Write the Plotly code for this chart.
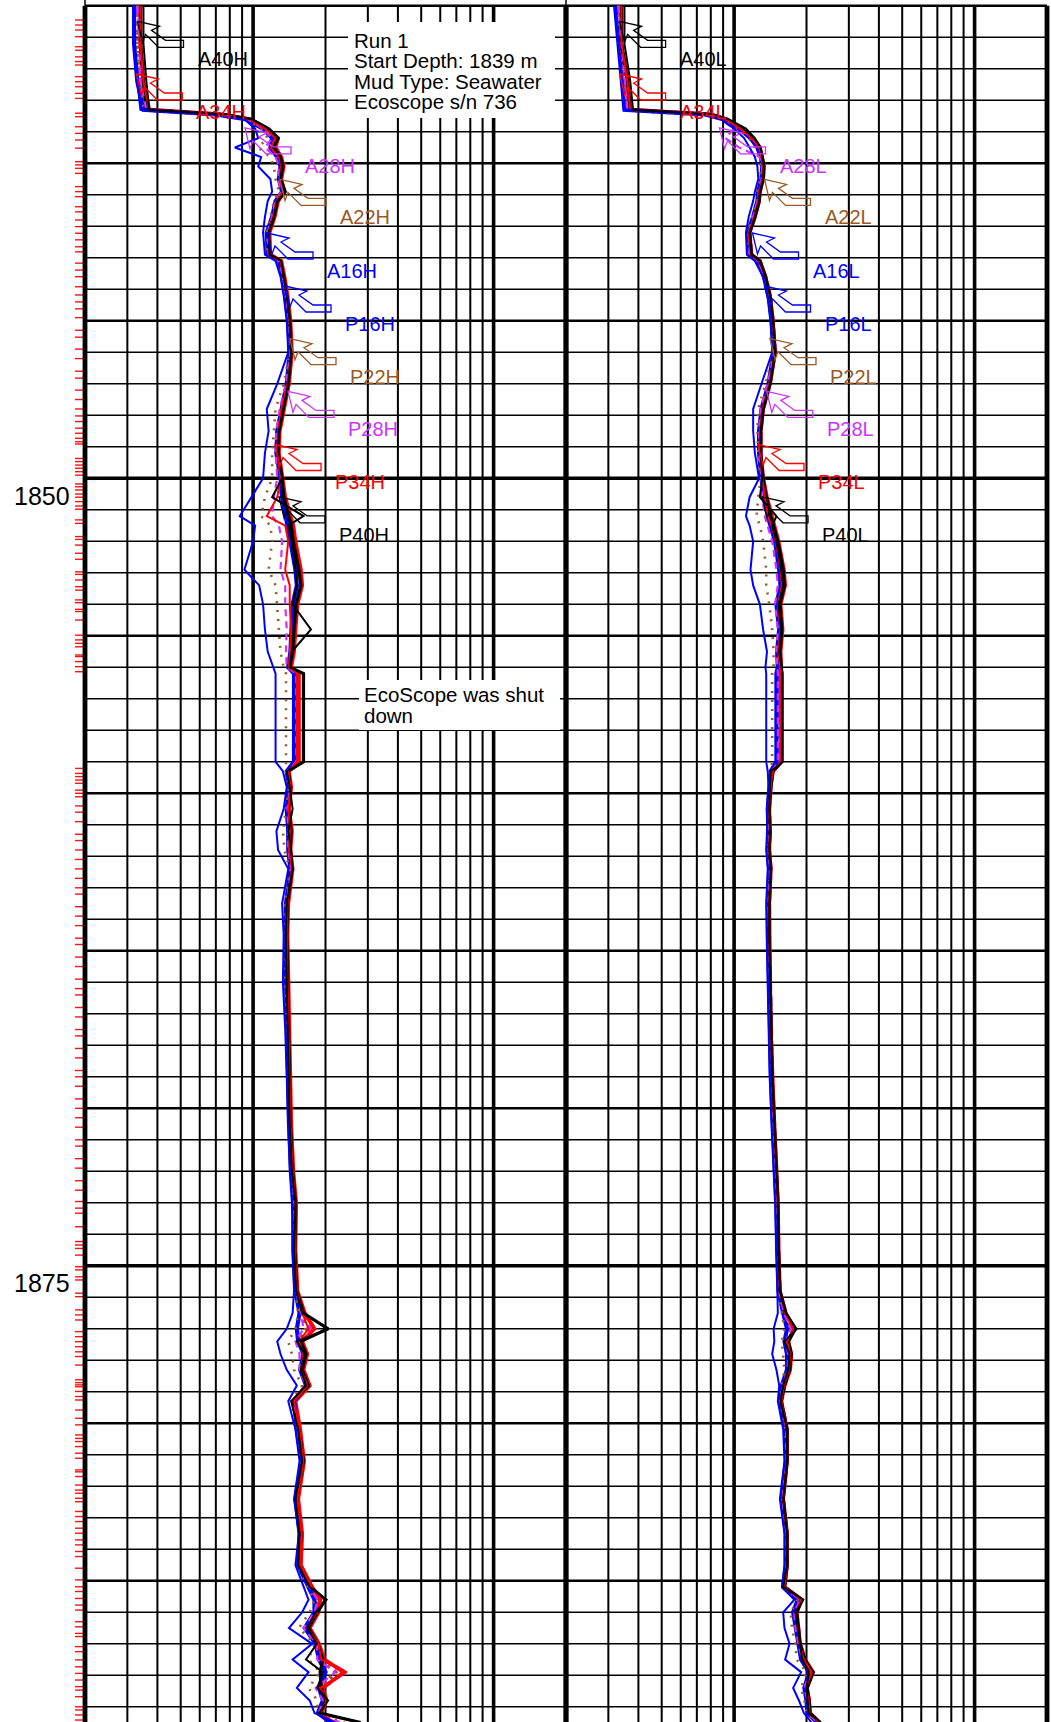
import math
import plotly.graph_objects as go

W, H = 1051, 1722

# ---------------- data ----------------
DEPTH = [
    1835.0, 1836.2, 1837.4, 1838.3, 1838.45, 1838.6, 1838.9, 1839.2, 1839.5, 1839.8,
    1840.1, 1840.5, 1840.9, 1841.2, 1841.7, 1842.2, 1842.9, 1843.1, 1843.6, 1844.2,
    1845.0, 1846.0, 1847.0, 1847.8, 1848.5, 1849.2, 1850.0, 1850.6, 1851.2, 1851.5,
    1852.0, 1852.9, 1853.4, 1854.0, 1854.8, 1855.5, 1856.0, 1856.2, 1859.0, 1859.3,
    1859.8, 1860.5, 1861.2, 1861.8, 1862.4, 1863.5, 1864.5, 1866.0, 1867.5, 1869.0,
    1870.5, 1872.0, 1873.0, 1874.5, 1875.8, 1876.5, 1877.0, 1877.4, 1877.8, 1878.3,
    1878.8, 1879.3, 1880.2, 1881.2, 1882.4, 1883.5, 1884.5, 1885.2, 1885.6, 1886.0,
    1886.5, 1887.0, 1887.5, 1887.9, 1888.4, 1888.8, 1889.2, 1889.5]

# 2 MHz track (left)
P40H = [0.34, 0.34, 0.35, 0.36, 0.76, 0.98, 1.15, 1.25, 1.22, 1.30,
        1.33, 1.30, 1.36, 1.26, 1.22, 1.16, 1.17, 1.30, 1.34, 1.38,
        1.42, 1.44, 1.40, 1.33, 1.28, 1.27, 1.32, 1.34, 1.41, 1.44,
        1.47, 1.55, 1.58, 1.51, 1.48, 1.46, 1.42, 1.62, 1.62, 1.40,
        1.43, 1.40, 1.44, 1.42, 1.45, 1.39, 1.38, 1.39, 1.40, 1.41,
        1.43, 1.46, 1.50, 1.49, 1.52, 1.62, 2.05, 1.58, 1.66, 1.60,
        1.70, 1.46, 1.55, 1.62, 1.52, 1.58, 1.56, 1.74, 2.00, 1.85,
        1.70, 1.86, 1.95, 1.90, 1.92, 2.00, 1.90, 2.80]
P34H = [0.34, 0.34, 0.35, 0.37, 0.74, 0.97, 1.14, 1.27, 1.24, 1.31,
        1.34, 1.31, 1.35, 1.27, 1.23, 1.17, 1.18, 1.31, 1.35, 1.39,
        1.43, 1.45, 1.41, 1.34, 1.29, 1.28, 1.33, 1.36, 1.43, 1.47,
        1.50, 1.58, 1.60, 1.53, 1.50, 1.48, 1.44, 1.55, 1.55, 1.41,
        1.44, 1.41, 1.45, 1.43, 1.46, 1.40, 1.39, 1.40, 1.41, 1.42,
        1.44, 1.47, 1.51, 1.50, 1.53, 1.64, 1.80, 1.60, 1.68, 1.62,
        1.72, 1.50, 1.57, 1.63, 1.54, 1.60, 1.58, 1.76, 1.90, 1.87,
        1.72, 1.88, 1.98, 2.38, 1.95, 2.02, 1.92, 2.10]
P28H = [0.33, 0.34, 0.34, 0.36, 0.73, 0.96, 1.13, 1.26, 1.23, 1.30,
        1.33, 1.30, 1.34, 1.26, 1.22, 1.16, 1.17, 1.30, 1.34, 1.38,
        1.42, 1.44, 1.40, 1.33, 1.28, 1.27, 1.31, 1.33, 1.40, 1.43,
        1.46, 1.53, 1.56, 1.49, 1.47, 1.45, 1.41, 1.51, 1.51, 1.40,
        1.43, 1.40, 1.44, 1.42, 1.45, 1.39, 1.38, 1.39, 1.40, 1.41,
        1.43, 1.46, 1.50, 1.49, 1.52, 1.62, 1.75, 1.58, 1.66, 1.60,
        1.70, 1.48, 1.55, 1.62, 1.52, 1.58, 1.56, 1.74, 1.88, 1.85,
        1.70, 1.86, 1.96, 2.42, 1.93, 2.00, 1.90, 2.05]
P22H = [0.33, 0.33, 0.34, 0.36, 0.72, 0.95, 1.12, 1.23, 1.20, 1.28,
        1.32, 1.29, 1.33, 1.25, 1.21, 1.15, 1.16, 1.29, 1.33, 1.37,
        1.41, 1.43, 1.39, 1.32, 1.27, 1.26, 1.30, 1.32, 1.38, 1.41,
        1.44, 1.51, 1.54, 1.47, 1.46, 1.44, 1.40, 1.50, 1.50, 1.39,
        1.42, 1.39, 1.42, 1.41, 1.44, 1.38, 1.37, 1.38, 1.39, 1.40,
        1.42, 1.45, 1.49, 1.48, 1.51, 1.60, 1.66, 1.56, 1.64, 1.59,
        1.68, 1.49, 1.54, 1.61, 1.52, 1.58, 1.56, 1.72, 1.86, 1.83,
        1.68, 1.85, 1.94, 2.20, 1.92, 1.98, 1.88, 2.15]
P16H = [0.32, 0.32, 0.33, 0.35, 0.70, 0.93, 1.10, 1.20, 1.18, 1.26,
        1.30, 1.28, 1.32, 1.24, 1.20, 1.14, 1.15, 1.28, 1.32, 1.36,
        1.40, 1.42, 1.38, 1.31, 1.26, 1.25, 1.30, 1.32, 1.37, 1.40,
        1.43, 1.50, 1.52, 1.46, 1.45, 1.43, 1.40, 1.48, 1.48, 1.38,
        1.41, 1.38, 1.40, 1.40, 1.43, 1.37, 1.36, 1.37, 1.38, 1.39,
        1.41, 1.44, 1.48, 1.47, 1.50, 1.56, 1.52, 1.54, 1.62, 1.57,
        1.66, 1.48, 1.52, 1.59, 1.50, 1.56, 1.54, 1.70, 1.80, 1.80,
        1.64, 1.82, 1.88, 2.00, 1.88, 1.95, 1.86, 2.10]
A40H = [0.35, 0.35, 0.36, 0.37, 0.77, 0.99, 1.17, 1.28, 1.22, 1.30,
        1.32, 1.30, 1.36, 1.26, 1.22, 1.16, 1.17, 1.31, 1.34, 1.38,
        1.42, 1.44, 1.40, 1.33, 1.28, 1.27, 1.32, 1.20, 1.62, 1.40,
        1.45, 1.50, 1.52, 1.46, 1.74, 1.45, 1.42, 1.62, 1.62, 1.38,
        1.42, 1.46, 1.40, 1.44, 1.46, 1.38, 1.37, 1.38, 1.39, 1.40,
        1.42, 1.45, 1.50, 1.48, 1.51, 1.60, 2.06, 1.52, 1.64, 1.58,
        1.66, 1.44, 1.54, 1.60, 1.50, 1.56, 1.54, 1.72, 2.02, 1.82,
        1.68, 1.84, 1.66, 1.95, 1.85, 2.05, 1.88, 2.80]
A34H = [0.34, 0.34, 0.35, 0.37, 0.75, 0.96, 1.12, 1.24, 1.18, 1.28,
        1.31, 1.29, 1.33, 1.25, 1.21, 1.16, 1.17, 1.30, 1.34, 1.38,
        1.42, 1.44, 1.39, 1.31, 1.27, 1.26, 1.30, 1.26, 1.14, 1.36,
        1.40, 1.36, 1.42, 1.42, 1.44, 1.42, 1.41, 1.52, 1.52, 1.40,
        1.43, 1.40, 1.42, 1.41, 1.45, 1.39, 1.38, 1.39, 1.40, 1.41,
        1.43, 1.46, 1.50, 1.49, 1.52, 1.60, 1.70, 1.55, 1.62, 1.58,
        1.68, 1.48, 1.56, 1.62, 1.53, 1.59, 1.57, 1.75, 1.92, 1.84,
        1.68, 1.87, 1.92, 2.45, 1.90, 2.02, 1.90, 2.20]
A28H = [0.33, 0.34, 0.34, 0.36, 0.74, 0.95, 1.10, 1.20, 1.12, 1.24,
        1.28, 1.27, 1.31, 1.24, 1.20, 1.15, 1.16, 1.29, 1.33, 1.37,
        1.41, 1.43, 1.37, 1.29, 1.25, 1.24, 1.26, 1.22, 1.20, 1.28,
        1.32, 1.30, 1.36, 1.36, 1.38, 1.37, 1.38, 1.51, 1.51, 1.39,
        1.42, 1.39, 1.40, 1.40, 1.44, 1.38, 1.37, 1.38, 1.39, 1.40,
        1.42, 1.45, 1.49, 1.48, 1.51, 1.58, 1.62, 1.50, 1.56, 1.56,
        1.66, 1.47, 1.54, 1.61, 1.51, 1.57, 1.55, 1.72, 1.85, 1.80,
        1.62, 1.84, 1.85, 2.20, 1.82, 1.95, 1.88, 2.30]
A22H = [0.33, 0.33, 0.34, 0.35, 0.73, 0.94, 1.08, 1.15, 1.05, 1.18,
        1.22, 1.24, 1.28, 1.22, 1.18, 1.14, 1.15, 1.27, 1.32, 1.36,
        1.40, 1.42, 1.34, 1.24, 1.22, 1.20, 1.20, 1.12, 1.08, 1.18,
        1.20, 1.16, 1.24, 1.26, 1.28, 1.30, 1.34, 1.37, 1.37, 1.37,
        1.40, 1.37, 1.33, 1.35, 1.42, 1.36, 1.36, 1.36, 1.38, 1.40,
        1.42, 1.44, 1.47, 1.48, 1.50, 1.54, 1.50, 1.40, 1.45, 1.48,
        1.60, 1.44, 1.52, 1.59, 1.50, 1.56, 1.54, 1.68, 1.80, 1.72,
        1.55, 1.80, 1.70, 1.90, 1.70, 1.85, 1.85, 2.40]
A16H = [0.32, 0.32, 0.33, 0.34, 0.72, 0.92, 1.02, 1.05, 0.84, 1.08,
        1.05, 1.18, 1.20, 1.15, 1.12, 1.10, 1.12, 1.24, 1.30, 1.34,
        1.38, 1.40, 1.26, 1.14, 1.16, 1.12, 1.10, 0.98, 0.88, 1.02,
        1.00, 0.92, 1.06, 1.10, 1.12, 1.15, 1.22, 1.24, 1.24, 1.33,
        1.38, 1.34, 1.25, 1.27, 1.40, 1.32, 1.34, 1.33, 1.36, 1.38,
        1.40, 1.42, 1.45, 1.46, 1.48, 1.46, 1.38, 1.26, 1.30, 1.38,
        1.52, 1.40, 1.50, 1.56, 1.48, 1.55, 1.50, 1.62, 1.70, 1.60,
        1.41, 1.76, 1.46, 1.70, 1.52, 1.72, 1.80, 2.20]

# 400 kHz track (right)
P40L = [0.34, 0.34, 0.36, 0.37, 0.80, 0.93, 1.08, 1.20, 1.28, 1.31,
        1.33, 1.32, 1.28, 1.27, 1.22, 1.16, 1.18, 1.28, 1.35, 1.41,
        1.45, 1.48, 1.41, 1.32, 1.29, 1.29, 1.32, 1.36, 1.42, 1.46,
        1.52, 1.60, 1.62, 1.55, 1.58, 1.55, 1.57, 1.58, 1.58, 1.45,
        1.42, 1.40, 1.41, 1.40, 1.42, 1.40, 1.40, 1.41, 1.42, 1.44,
        1.47, 1.50, 1.52, 1.53, 1.55, 1.64, 1.80, 1.68, 1.73, 1.70,
        1.62, 1.57, 1.66, 1.66, 1.60, 1.66, 1.66, 1.62, 1.92, 1.82,
        1.85, 1.88, 1.97, 2.13, 2.01, 2.05, 2.07, 2.28]
P34L = [0.34, 0.34, 0.36, 0.37, 0.80, 0.93, 1.07, 1.19, 1.28, 1.31,
        1.33, 1.32, 1.28, 1.27, 1.22, 1.16, 1.18, 1.28, 1.35, 1.41,
        1.45, 1.48, 1.41, 1.32, 1.29, 1.29, 1.32, 1.37, 1.43, 1.47,
        1.53, 1.61, 1.63, 1.56, 1.59, 1.56, 1.57, 1.57, 1.57, 1.45,
        1.42, 1.40, 1.41, 1.40, 1.42, 1.40, 1.40, 1.41, 1.42, 1.44,
        1.47, 1.50, 1.52, 1.53, 1.55, 1.64, 1.78, 1.68, 1.73, 1.71,
        1.62, 1.57, 1.66, 1.66, 1.60, 1.66, 1.66, 1.62, 1.91, 1.82,
        1.85, 1.88, 1.97, 2.13, 2.01, 2.05, 2.07, 2.27]
P28L = [0.33, 0.34, 0.35, 0.37, 0.79, 0.92, 1.07, 1.19, 1.27, 1.30,
        1.33, 1.32, 1.28, 1.27, 1.22, 1.16, 1.18, 1.28, 1.35, 1.41,
        1.45, 1.48, 1.41, 1.32, 1.29, 1.29, 1.32, 1.36, 1.42, 1.46,
        1.52, 1.60, 1.62, 1.55, 1.58, 1.55, 1.56, 1.55, 1.55, 1.44,
        1.42, 1.40, 1.41, 1.40, 1.42, 1.40, 1.40, 1.41, 1.42, 1.44,
        1.47, 1.50, 1.52, 1.53, 1.55, 1.63, 1.76, 1.67, 1.72, 1.70,
        1.62, 1.57, 1.66, 1.66, 1.60, 1.66, 1.66, 1.62, 1.90, 1.82,
        1.85, 1.88, 1.96, 2.12, 2.00, 2.05, 2.06, 2.26]
P22L = [0.33, 0.34, 0.35, 0.36, 0.78, 0.92, 1.06, 1.18, 1.26, 1.30,
        1.32, 1.31, 1.27, 1.26, 1.21, 1.15, 1.17, 1.27, 1.34, 1.40,
        1.44, 1.47, 1.40, 1.31, 1.28, 1.28, 1.31, 1.35, 1.40, 1.44,
        1.50, 1.58, 1.60, 1.53, 1.56, 1.53, 1.55, 1.54, 1.54, 1.43,
        1.41, 1.39, 1.40, 1.39, 1.41, 1.39, 1.39, 1.40, 1.41, 1.43,
        1.46, 1.49, 1.51, 1.52, 1.54, 1.62, 1.74, 1.66, 1.70, 1.68,
        1.60, 1.56, 1.65, 1.65, 1.59, 1.65, 1.65, 1.61, 1.88, 1.80,
        1.83, 1.86, 1.94, 2.10, 1.99, 2.03, 2.05, 2.24]
P16L = [0.32, 0.33, 0.34, 0.35, 0.76, 0.90, 1.05, 1.17, 1.25, 1.29,
        1.31, 1.30, 1.26, 1.25, 1.20, 1.14, 1.16, 1.26, 1.33, 1.39,
        1.43, 1.46, 1.39, 1.30, 1.27, 1.27, 1.30, 1.33, 1.38, 1.42,
        1.48, 1.54, 1.56, 1.50, 1.54, 1.51, 1.52, 1.50, 1.50, 1.42,
        1.40, 1.38, 1.39, 1.38, 1.40, 1.38, 1.38, 1.39, 1.40, 1.42,
        1.45, 1.48, 1.50, 1.51, 1.53, 1.60, 1.66, 1.62, 1.66, 1.66,
        1.58, 1.55, 1.64, 1.64, 1.58, 1.64, 1.64, 1.60, 1.84, 1.76,
        1.80, 1.84, 1.90, 2.05, 1.96, 2.00, 2.02, 2.22]
A40L = [0.35, 0.35, 0.37, 0.38, 0.82, 0.95, 1.12, 1.22, 1.29, 1.31,
        1.33, 1.32, 1.28, 1.27, 1.22, 1.16, 1.18, 1.28, 1.35, 1.41,
        1.45, 1.48, 1.41, 1.32, 1.29, 1.29, 1.31, 1.28, 1.50, 1.44,
        1.50, 1.57, 1.60, 1.53, 1.57, 1.54, 1.57, 1.59, 1.59, 1.42,
        1.41, 1.40, 1.41, 1.40, 1.42, 1.40, 1.40, 1.41, 1.42, 1.44,
        1.47, 1.50, 1.52, 1.53, 1.55, 1.64, 1.82, 1.62, 1.70, 1.68,
        1.60, 1.56, 1.66, 1.66, 1.60, 1.66, 1.66, 1.60, 1.94, 1.80,
        1.84, 1.88, 1.92, 2.05, 2.00, 2.02, 2.04, 2.30]
A34L = [0.34, 0.34, 0.36, 0.37, 0.80, 0.92, 1.06, 1.18, 1.27, 1.30,
        1.32, 1.31, 1.27, 1.26, 1.21, 1.15, 1.17, 1.27, 1.35, 1.41,
        1.45, 1.48, 1.40, 1.31, 1.28, 1.28, 1.31, 1.34, 1.38, 1.43,
        1.49, 1.56, 1.58, 1.52, 1.56, 1.53, 1.55, 1.56, 1.56, 1.44,
        1.42, 1.40, 1.41, 1.40, 1.42, 1.40, 1.40, 1.41, 1.42, 1.44,
        1.47, 1.50, 1.52, 1.53, 1.55, 1.63, 1.76, 1.66, 1.71, 1.69,
        1.61, 1.57, 1.66, 1.66, 1.60, 1.66, 1.66, 1.62, 1.90, 1.80,
        1.83, 1.87, 1.95, 2.10, 1.99, 2.04, 2.06, 2.25]
A28L = [0.33, 0.34, 0.35, 0.36, 0.78, 0.88, 1.00, 0.92, 1.05, 1.28,
        1.31, 1.30, 1.27, 1.25, 1.20, 1.15, 1.16, 1.26, 1.34, 1.40,
        1.44, 1.47, 1.38, 1.29, 1.27, 1.27, 1.30, 1.31, 1.34, 1.38,
        1.44, 1.50, 1.52, 1.48, 1.52, 1.50, 1.52, 1.52, 1.52, 1.44,
        1.41, 1.39, 1.40, 1.39, 1.41, 1.39, 1.39, 1.40, 1.41, 1.43,
        1.46, 1.49, 1.51, 1.52, 1.54, 1.61, 1.72, 1.64, 1.68, 1.67,
        1.60, 1.56, 1.65, 1.65, 1.59, 1.65, 1.65, 1.61, 1.88, 1.78,
        1.80, 1.85, 1.92, 2.08, 1.96, 2.02, 2.04, 2.22]
A22L = [0.33, 0.33, 0.35, 0.36, 0.77, 0.90, 1.04, 1.15, 1.22, 1.26,
        1.29, 1.29, 1.25, 1.24, 1.19, 1.14, 1.15, 1.25, 1.33, 1.39,
        1.43, 1.46, 1.35, 1.26, 1.25, 1.26, 1.29, 1.26, 1.24, 1.28,
        1.32, 1.36, 1.36, 1.40, 1.44, 1.46, 1.46, 1.44, 1.44, 1.42,
        1.40, 1.38, 1.39, 1.38, 1.40, 1.38, 1.38, 1.39, 1.40, 1.42,
        1.45, 1.48, 1.50, 1.51, 1.53, 1.58, 1.62, 1.58, 1.60, 1.62,
        1.58, 1.55, 1.63, 1.64, 1.58, 1.64, 1.64, 1.60, 1.84, 1.72,
        1.74, 1.80, 1.82, 2.00, 1.90, 1.96, 2.00, 2.18]
A16L = [0.32, 0.33, 0.34, 0.35, 0.74, 0.88, 1.00, 1.10, 1.16, 1.22,
        1.25, 1.26, 1.22, 1.20, 1.15, 1.12, 1.13, 1.22, 1.32, 1.38,
        1.42, 1.44, 1.30, 1.20, 1.20, 1.22, 1.27, 1.16, 1.12, 1.16,
        1.20, 1.17, 1.20, 1.28, 1.32, 1.37, 1.35, 1.36, 1.36, 1.38,
        1.39, 1.37, 1.37, 1.36, 1.38, 1.36, 1.37, 1.38, 1.39, 1.41,
        1.43, 1.46, 1.48, 1.50, 1.52, 1.52, 1.46, 1.47, 1.44, 1.50,
        1.54, 1.52, 1.60, 1.62, 1.55, 1.62, 1.62, 1.58, 1.78, 1.60,
        1.62, 1.70, 1.63, 1.90, 1.76, 1.86, 1.95, 2.10]

# red sample marks along the depth column
RED_TICK_DEPTHS = [
    1835.45, 1835.61, 1835.77, 1835.98, 1836.30, 1836.41, 1836.62, 1836.77, 1836.88, 1837.25,
    1837.41, 1837.57, 1837.78, 1837.94, 1838.41, 1838.52, 1838.84, 1839.05, 1839.26, 1839.52,
    1839.95, 1840.05, 1840.16, 1840.32, 1840.74, 1840.90, 1841.06, 1841.38, 1841.54, 1841.80,
    1842.01, 1842.22, 1842.43, 1842.65, 1842.81, 1843.17, 1843.39, 1843.60, 1843.92, 1844.18,
    1844.40, 1844.62, 1844.90, 1845.30, 1845.52, 1845.90, 1846.20, 1846.60, 1846.82, 1847.20,
    1847.50, 1847.80, 1848.02, 1848.20, 1848.41, 1848.57, 1848.73, 1848.84, 1848.91, 1849.37,
    1849.47, 1849.58, 1849.68, 1849.79, 1849.90, 1850.18, 1850.27, 1850.37, 1850.50, 1850.60,
    1850.74, 1850.88, 1850.98, 1851.32, 1851.43, 1851.85, 1851.94, 1852.12, 1852.38, 1852.57,
    1852.97, 1853.05, 1853.23, 1853.44, 1853.55, 1853.86, 1853.95, 1854.16, 1854.23, 1854.50,
    1854.98, 1855.13, 1855.24, 1855.35, 1855.61, 1855.66, 1855.82, 1855.98, 1856.14,
    1859.21, 1859.37, 1859.47, 1859.58, 1859.68, 1859.90, 1860.00, 1860.11,
    1860.40, 1860.60, 1860.90, 1861.30, 1861.50, 1861.80, 1862.10, 1862.40, 1862.70, 1863.00,
    1863.20, 1863.60, 1863.90, 1864.20, 1864.60, 1864.80, 1865.20, 1865.50, 1865.90, 1866.20,
    1866.40, 1866.80, 1867.10, 1867.50, 1867.70, 1868.10, 1868.40, 1868.80, 1869.00, 1869.30,
    1869.70, 1870.00, 1870.30, 1870.60, 1871.00, 1871.20, 1871.60, 1871.90, 1872.30, 1872.60,
    1872.96, 1873.17, 1873.33, 1873.76, 1874.23, 1874.34, 1874.45, 1874.66, 1875.03, 1875.13,
    1875.35, 1875.45, 1875.87, 1875.98, 1876.40, 1876.56, 1876.72, 1877.09, 1877.25, 1877.41,
    1877.57, 1877.73, 1877.88, 1878.15, 1878.62, 1878.71, 1878.78, 1878.84, 1878.99, 1879.15,
    1879.26, 1879.58, 1879.84, 1880.05, 1880.37, 1880.48, 1880.58, 1880.74, 1880.95, 1881.11,
    1881.48, 1881.54, 1881.69, 1881.96, 1882.12, 1882.22, 1882.38, 1882.49, 1882.80, 1882.96,
    1883.12, 1883.33, 1883.49, 1883.70, 1883.86, 1884.07, 1884.23, 1884.60, 1884.97, 1885.19,
    1885.34, 1885.56, 1885.77, 1885.93, 1886.30, 1886.46, 1886.67, 1886.77, 1887.09, 1887.25,
    1887.51, 1887.73, 1887.94, 1888.15, 1888.36, 1888.47, 1888.68, 1889.00, 1889.10, 1889.26,
    1889.42]

DEPTH_LABELS = [1850, 1875]
NAMES = ["A40", "A34", "A28", "A22", "A16", "P16", "P22", "P28", "P34", "P40"]
GRID_MINOR = [0.3, 0.4, 0.5, 0.6, 0.7, 0.8, 0.9, 2, 3, 4, 5, 6, 7, 8, 9]
GRID_DECADE = [1, 10]
GRID_EDGE = [0.2, 20]
X_MIN, X_MAX = 0.2, 20
DEPTH_TOP, DEPTH_GRID_START = 1834.816, 1835
PX_PER_M = 31.5
DEPTH_BOTTOM = DEPTH_TOP + H / PX_PER_M

HEADER_TEXT = ["Run 1", "Start Depth: 1839 m", "Mud Type: Seawater", "Ecoscope s/n 736"]
NOTE_TEXT = ["EcoScope was shut", "down"]

# ---------------- styles ----------------
BLACK, RED, MAG, BROWN, BLUE = "#000000", "#FF0000", "#CC33FF", "#9A5A26", "#0000FF"
STYLE = {
    "A40": dict(color=BLACK, width=2.0, dash="solid"),
    "A34": dict(color=RED, width=2.0, dash="solid"),
    "A28": dict(color=MAG, width=2.2, dash="7px,5px"),
    "A22": dict(color=BROWN, width=2.6, dash="2px,7px"),
    "A16": dict(color=BLUE, width=2.0, dash="solid"),
    "P16": dict(color=BLUE, width=4.2, dash="solid"),
    "P22": dict(color=BROWN, width=4.2, dash="3px,5px"),
    "P28": dict(color=MAG, width=3.8, dash="10px,5px"),
    "P34": dict(color=RED, width=3.8, dash="solid"),
    "P40": dict(color=BLACK, width=3.2, dash="solid"),
}
DRAW_ORDER = ["P22", "P28", "P34", "P16", "P40", "A22", "A28", "A34", "A16", "A40"]

H_CURVES = {"A40": A40H, "A34": A34H, "A28": A28H, "A22": A22H, "A16": A16H,
            "P16": P16H, "P22": P22H, "P28": P28H, "P34": P34H, "P40": P40H}
L_CURVES = {"A40": A40L, "A34": A34L, "A28": A28L, "A22": A22L, "A16": A16L,
            "P16": P16L, "P22": P22L, "P28": P28L, "P34": P34L, "P40": P40L}

# label text positions (pixel, left edge / vertical centre)
LABEL_POS_H = [(195.5, 59.3), (194.4, 112), (303, 165.8), (338, 217.4), (325, 271),
               (343, 324), (348, 376.7), (346, 429.4), (333, 482.5), (337, 534.8)]
LABEL_POS_L = [(677.6, 59.3), (677.6, 112), (777.5, 165.8), (822.5, 217.4), (810.5, 271),
               (822.5, 324), (828, 376.7), (824.8, 429.4), (816, 482.5), (820, 534.8)]
ARROW = [(0, 0), (22, 5), (14, 9), (28, 19), (46, 19), (46, 26), (21, 26), (8, 13), (5, 21)]
FONT = "Liberation Sans, Arial, Helvetica, sans-serif"


def px(x):
    return x / W


def py(y):
    return 1 - y / H


pad = 4 / 240.5
lo, hi = math.log10(X_MIN) - pad, math.log10(X_MAX) + pad

fig = go.Figure()

# vertical grid (per track)
for xa in ["x", "x2"]:
    for vals, wd in [(GRID_MINOR, 2.0), (GRID_DECADE, 3.6), (GRID_EDGE, 4.8)]:
        xs, ys = [], []
        for v in vals:
            xs += [v, v, None]
            ys += [DEPTH_GRID_START, DEPTH_BOTTOM, None]
        fig.add_trace(go.Scatter(x=xs, y=ys, xaxis=xa, yaxis="y", mode="lines",
                                 line=dict(color="black", width=wd), hoverinfo="skip"))
    fig.add_trace(go.Scatter(x=[X_MIN, X_MIN], y=[DEPTH_TOP, DEPTH_GRID_START], xaxis=xa, yaxis="y",
                             mode="lines", line=dict(color="black", width=1.5), hoverinfo="skip"))

# curves
for xa, curves in [("x", H_CURVES), ("x2", L_CURVES)]:
    for nm in DRAW_ORDER:
        st = STYLE[nm]
        fig.add_trace(go.Scatter(x=curves[nm], y=DEPTH, xaxis=xa, yaxis="y", mode="lines",
                                 line=dict(color=st["color"], width=st["width"], dash=st["dash"]),
                                 name=nm, hoverinfo="skip"))

shapes = []
# horizontal depth grid
d = int(math.ceil(DEPTH_GRID_START))
while d <= DEPTH_BOTTOM:
    if d % 25 == 0:
        wd = 3.6
    elif d % 5 == 0:
        wd = 2.6
    else:
        wd = 1.6
    shapes.append(dict(type="line", xref="paper", yref="y", x0=px(85), x1=px(1047), y0=d, y1=d,
                       line=dict(color="black", width=wd), layer="below"))
    d += 1
# red sample marks
for t in RED_TICK_DEPTHS:
    shapes.append(dict(type="line", xref="paper", yref="y", x0=px(75), x1=px(86), y0=t, y1=t,
                       line=dict(color="#FF1010", width=1.4), layer="below"))
# white text boxes
for (x0, y0, x1, y1) in [(348, 22, 555, 118), (359, 680, 560, 730)]:
    shapes.append(dict(type="rect", xref="paper", yref="paper", x0=px(x0), x1=px(x1),
                       y0=py(y1), y1=py(y0), fillcolor="white", line=dict(width=0), layer="above"))

annotations = []
for track_pos, suffix in [(LABEL_POS_H, "H"), (LABEL_POS_L, "L")]:
    for nm, (lx, ly) in zip(NAMES, track_pos):
        col = STYLE[nm]["color"]
        tx, ty = lx - 58, ly - 38
        path = "M " + " L ".join(f"{px(tx + dx):.5f},{py(ty + dy):.5f}" for dx, dy in ARROW) + " Z"
        shapes.append(dict(type="path", xref="paper", yref="paper", path=path,
                           line=dict(color=col, width=1.3), layer="above"))
        annotations.append(dict(x=px(lx), y=py(ly), xref="paper", yref="paper", text=nm + suffix,
                                xanchor="left", yanchor="middle", showarrow=False,
                                font=dict(family=FONT, size=20, color=col)))

for i, line in enumerate(HEADER_TEXT):
    annotations.append(dict(x=px(352), y=py(40 + 20.6 * i), xref="paper", yref="paper", text=line,
                            xanchor="left", yanchor="middle", showarrow=False,
                            font=dict(family=FONT, size=20.5, color="black")))
for i, line in enumerate(NOTE_TEXT):
    annotations.append(dict(x=px(362), y=py(694 + 21 * i), xref="paper", yref="paper", text=line,
                            xanchor="left", yanchor="middle", showarrow=False,
                            font=dict(family=FONT, size=20.5, color="black")))
for dl in DEPTH_LABELS:
    annotations.append(dict(x=px(72), y=dl + 17.4 / PX_PER_M, xref="paper", yref="y", text=str(dl),
                            xanchor="right", yanchor="middle", showarrow=False,
                            font=dict(family=FONT, size=25, color="black")))

fig.update_layout(
    width=W, height=H, margin=dict(l=0, r=0, t=0, b=0),
    paper_bgcolor="white", plot_bgcolor="rgba(0,0,0,0)", showlegend=False,
    xaxis=dict(type="log", range=[lo, hi], domain=[px(81), px(570)], visible=False, anchor="y"),
    xaxis2=dict(type="log", range=[lo, hi], domain=[px(562), 1.0], visible=False, anchor="y"),
    yaxis=dict(range=[DEPTH_BOTTOM, DEPTH_TOP], domain=[0, 1], visible=False, anchor="x"),
    shapes=shapes, annotations=annotations,
)

fig.write_html("out.html")
